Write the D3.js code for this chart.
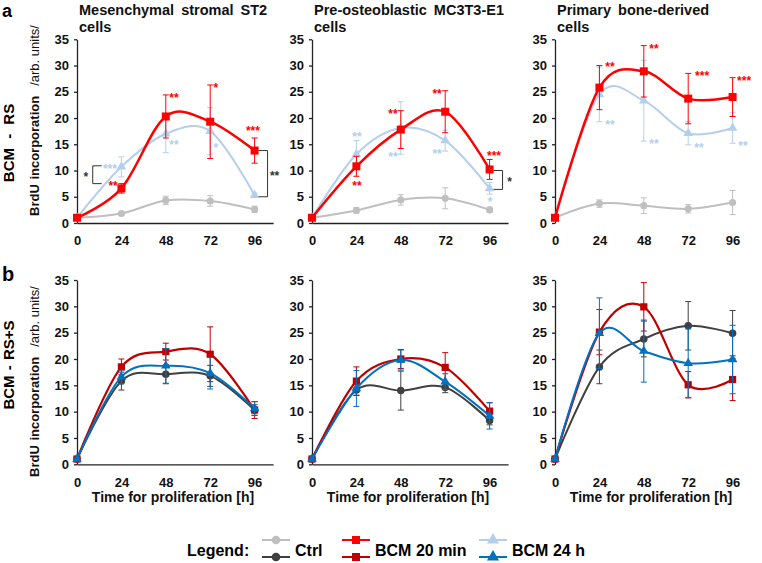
<!DOCTYPE html>
<html><head><meta charset="utf-8">
<script src="https://cdn.jsdelivr.net/npm/d3@7"></script>
<style>
html,body{margin:0;padding:0;background:#fff;}
svg text{font-family:'Liberation Sans',Arial,Helvetica,sans-serif;}
</style></head>
<body><svg id="chart" width="762" height="563"></svg>
<script>
// ---------- DATA ----------
const hours = [0, 24, 48, 72, 96];
const yTicks = [0, 5, 10, 15, 20, 25, 30, 35];
const panelTitles = [["Mesenchymal stromal ST2", "cells"], ["Pre-osteoblastic MC3T3-E1", "cells"], ["Primary bone-derived", "cells"]];
const rowLabels = ["BCM - RS", "BCM - RS+S"];
const panelLetters = ["a", "b"];
const yTitleMain = "BrdU incorporation";
const yTitleUnit = "/arb. units/";
const xTitle = "Time for proliferation [h]";
const seriesNames = ["Ctrl", "BCM 20 min", "BCM 24 h"];

// Row a: BCM - RS
const aST2Ctrl  = [1.0, 1.8, 4.3, 4.2, 2.6];   const aST2CtrlErr  = [0.2, 0.3, 0.8, 1.0, 0.6];
const aST2B20   = [1.0, 6.6, 20.3, 19.3, 13.8]; const aST2B20Err   = [0.3, 0.9, 4.1, 7.0, 2.4];
const aST2B24   = [1.0, 10.7, 17.0, 17.5, 5.3]; const aST2B24Err   = [0.2, 1.9, 3.6, 4.5, 0.4];
const aMC3Ctrl  = [1.0, 2.4, 4.4, 4.7, 2.5];   const aMC3CtrlErr  = [0.2, 0.5, 1.0, 2.0, 0.5];
const aMC3B20   = [1.0, 10.8, 17.8, 21.2, 10.2]; const aMC3B20Err  = [0.3, 1.9, 3.6, 4.0, 1.9];
const aMC3B24   = [1.0, 13.1, 18.1, 15.7, 6.6]; const aMC3B24Err   = [0.2, 2.6, 5.0, 2.0, 1.1];
const aPriCtrl  = [1.0, 3.7, 3.3, 2.7, 3.9];   const aPriCtrlErr  = [0.2, 0.7, 1.5, 0.8, 2.3];
const aPriB20   = [1.0, 25.8, 28.9, 23.7, 24.0]; const aPriB20Err  = [0.3, 4.2, 4.9, 4.8, 3.7];
const aPriB24   = [1.0, 24.5, 23.3, 17.1, 18.1]; const aPriB24Err  = [0.2, 5.2, 7.7, 2.2, 2.9];

// Row b: BCM - RS+S
const bST2Ctrl  = [1.0, 15.8, 17.1, 16.8, 10.3]; const bST2CtrlErr = [0.2, 1.7, 1.8, 2.0, 1.0];
const bST2B20   = [1.0, 18.5, 21.4, 20.9, 10.3]; const bST2B20Err  = [0.3, 1.5, 1.6, 5.2, 1.6];
const bST2B24   = [1.0, 16.6, 18.7, 17.3, 10.6]; const bST2B24Err  = [0.2, 1.3, 3.3, 3.0, 1.3];
const bMC3Ctrl  = [1.0, 14.1, 14.0, 14.6, 8.3];  const bMC3CtrlErr = [0.2, 1.0, 3.7, 1.0, 0.8];
const bMC3B20   = [1.0, 15.8, 20.0, 18.4, 10.1]; const bMC3B20Err  = [0.3, 2.7, 1.8, 2.8, 1.6];
const bMC3B24   = [1.0, 14.4, 19.8, 15.7, 9.2];  const bMC3B24Err  = [0.2, 3.4, 1.9, 1.5, 2.5];
const bPriCtrl  = [1.0, 18.5, 23.8, 26.3, 24.9]; const bPriCtrlErr = [0.2, 3.2, 3.4, 4.6, 4.3];
const bPriB20   = [1.0, 25.1, 29.9, 15.1, 16.1]; const bPriB20Err  = [0.3, 4.3, 4.6, 2.5, 4.0];
const bPriB24   = [1.0, 24.9, 21.5, 19.2, 19.9]; const bPriB24Err  = [0.2, 6.7, 5.9, 6.5, 6.5];

// significance marks (row a): [panel, series(1=20min,2=24h), hour, value, text]
const stars = [
  [0, 1, 19.5, 7.6, "**"], [0, 2, 17.8, 10.9, "***"], [0, 1, 52.4, 24.4, "**"], [0, 2, 52.4, 15.5, "**"],
  [0, 1, 75.1, 26.3, "*"], [0, 2, 75.1, 14.9, "*"], [0, 1, 95.1, 18.1, "***"],
  [1, 2, 24.3, 17.0, "**"], [1, 1, 24.3, 7.6, "**"], [1, 1, 43.8, 21.4, "**"], [1, 2, 43.8, 13.2, "**"],
  [1, 1, 67.6, 25.2, "**"], [1, 2, 67.6, 13.7, "**"], [1, 1, 98.4, 13.4, "***"], [1, 2, 96.2, 4.6, "*"],
  [2, 1, 29.7, 30.2, "**"], [2, 2, 29.7, 19.3, "**"], [2, 1, 53.5, 33.8, "**"], [2, 2, 53.5, 15.6, "**"],
  [2, 1, 79.5, 28.6, "***"], [2, 2, 77.8, 14.9, "**"], [2, 1, 102.2, 27.7, "***"], [2, 2, 101.6, 15.3, "**"]
];
// comparison brackets (row a): [panel, side, hour, upper value, lower value, text]
const brackets = [
  [0, "left", 8.5, 10.9, 7.5, "*"],
  [0, "right", 103.0, 13.8, 5.0, "**"],
  [1, "right", 103.0, 10.0, 6.4, "*"]
];

// ---------- LAYOUT / STYLE ----------
const panelX0 = [77, 312, 555];
const rowY = [{zero: 223, top: 39.3}, {zero: 464.3, top: 280}];
const pxPerHour = 1.85;
const xMaxHour = 106;
const colors = [
  ["#bfbfbf", "#ff0000", "#b4cfec"],
  ["#404040", "#c00000", "#0070c0"]
];
const svg = d3.select("#chart");
const FONT = "'Liberation Sans', Arial, Helvetica, sans-serif";

const rowsData = [
  [[aST2Ctrl, aST2B20, aST2B24], [aMC3Ctrl, aMC3B20, aMC3B24], [aPriCtrl, aPriB20, aPriB24]],
  [[bST2Ctrl, bST2B20, bST2B24], [bMC3Ctrl, bMC3B20, bMC3B24], [bPriCtrl, bPriB20, bPriB24]]
];
const rowsErr = [
  [[aST2CtrlErr, aST2B20Err, aST2B24Err], [aMC3CtrlErr, aMC3B20Err, aMC3B24Err], [aPriCtrlErr, aPriB20Err, aPriB24Err]],
  [[bST2CtrlErr, bST2B20Err, bST2B24Err], [bMC3CtrlErr, bMC3B20Err, bMC3B24Err], [bPriCtrlErr, bPriB20Err, bPriB24Err]]
];
const drawOrder = [[0, 2, 1], [0, 1, 2]];
const symbolTypes = [d3.symbolCircle, d3.symbolSquare, d3.symbolTriangle];
const symbolSizes = [[40, 64, 40], [44, 52, 40]];
const lineWidths = [[2, 2.5, 2], [2, 2.2, 2]];

function scales(r, p) {
  const x = d3.scaleLinear().domain([0, xMaxHour]).range([panelX0[p], panelX0[p] + xMaxHour * pxPerHour]);
  const y = d3.scaleLinear().domain([0, 35]).range([rowY[r].zero, rowY[r].top]);
  return {x, y};
}

// titles
panelTitles.forEach((t, p) => {
  const tx = svg.append("text").attr("x", panelX0[p] + 2).attr("y", 15)
    .attr("font-size", 14.5).attr("font-weight", "bold").attr("word-spacing", 3).attr("fill", "#111");
  tx.append("tspan").attr("x", panelX0[p] + 2).attr("y", 15).text(t[0]);
  tx.append("tspan").attr("x", panelX0[p] + 2).attr("y", 32).text(t[1]);
});

// panel letters
svg.append("text").attr("x", 2).attr("y", 17).attr("font-size", 18).attr("font-weight", "bold").text(panelLetters[0]);
svg.append("text").attr("x", 2).attr("y", 281).attr("font-size", 20).attr("font-weight", "bold").text(panelLetters[1]);

// row y titles
const yTitleBottom = [216, 477];
const rowLabelCenter = [143, 365];
rowLabels.forEach((lab, r) => {
  svg.append("text").attr("transform", `translate(14,${rowLabelCenter[r]}) rotate(-90)`)
    .attr("text-anchor", "middle").attr("font-size", 15).attr("font-weight", "bold")
    .attr("word-spacing", r === 0 ? 5 : 1).text(lab);
  const t = svg.append("text").attr("transform", `translate(39,${yTitleBottom[r]}) rotate(-90)`)
    .attr("font-size", 13).attr("fill", "#111");
  t.append("tspan").attr("font-weight", "bold").attr("word-spacing", 1).text(yTitleMain);
  t.append("tspan").attr("dx", 10).attr("font-weight", "normal").text(yTitleUnit);
});

// panels
for (let r = 0; r < 2; r++) {
  for (let p = 0; p < 3; p++) {
    const {x, y} = scales(r, p);
    const g = svg.append("g");
    const ya = g.append("g").attr("transform", `translate(${panelX0[p]},0)`)
      .call(d3.axisLeft(y).tickValues(yTicks).tickSize(3).tickSizeOuter(0).tickPadding(5));
    ya.selectAll("text").attr("font-size", 13).attr("font-weight", "bold").attr("fill", "#111").attr("font-family", FONT);
    ya.selectAll("line,path").attr("stroke", "#222").attr("stroke-width", 1.3);
    const xa = g.append("g").attr("transform", `translate(0,${rowY[r].zero})`)
      .call(d3.axisBottom(x).tickValues(hours).tickSize(0).tickSizeOuter(0).tickPadding(13));
    xa.selectAll("text").attr("font-size", 13).attr("font-weight", "bold").attr("fill", "#111").attr("font-family", FONT);
    xa.select("path.domain").attr("stroke", "#222").attr("stroke-width", 1.3).attr("display", p === 2 ? "none" : null);
    if (r === 1) {
      g.append("text").attr("x", panelX0[p] + 96).attr("y", 502).attr("text-anchor", "middle")
        .attr("font-size", 14).attr("font-weight", "bold").attr("fill", "#111").text(xTitle);
    }
    drawOrder[r].forEach(s => {
      const vals = rowsData[r][p][s], errs = rowsErr[r][p][s];
      const pts = hours.map((h, i) => ({h, v: vals[i], e: errs[i]}));
      const col = colors[r][s];
      const eg = g.append("g").attr("stroke", col).attr("stroke-width", 1);
      pts.forEach(d => {
        eg.append("line").attr("x1", x(d.h)).attr("x2", x(d.h)).attr("y1", y(d.v - d.e)).attr("y2", y(d.v + d.e));
        [d.v - d.e, d.v + d.e].forEach(v => eg.append("line").attr("x1", x(d.h) - 3).attr("x2", x(d.h) + 3).attr("y1", y(v)).attr("y2", y(v)));
      });
      const line = d3.line().x(d => x(d.h)).y(d => y(d.v)).curve(d3.curveCardinal.tension(0));
      g.append("path").attr("d", line(pts)).attr("fill", "none").attr("stroke", col).attr("stroke-width", lineWidths[r][s]);
      g.selectAll(null).data(pts).enter().append("path")
        .attr("transform", d => `translate(${x(d.h)},${y(d.v)})`)
        .attr("d", d3.symbol().type(symbolTypes[s]).size(symbolSizes[r][s])).attr("fill", col);
    });
    if (r === 0) {
      stars.filter(d => d[0] === p).forEach(d => {
        g.append("text").attr("x", x(d[2])).attr("y", y(d[3]) + 7).attr("text-anchor", "middle")
          .attr("font-size", 12).attr("font-weight", "bold").attr("fill", colors[0][d[1]]).text(d[4]);
      });
      brackets.filter(d => d[0] === p).forEach(d => {
        const bx = x(d[2]), y1 = y(d[3]), y2 = y(d[4]);
        const dir = d[1] === "left" ? 1 : -1;
        g.append("path").attr("d", `M${bx + dir * 9},${y1}H${bx}V${y2}H${bx + dir * 9}`)
          .attr("fill", "none").attr("stroke", "#333").attr("stroke-width", 1);
        g.append("text").attr("x", bx - dir * 7).attr("y", (y1 + y2) / 2 + 6).attr("text-anchor", "middle")
          .attr("font-size", 12).attr("font-weight", "bold").attr("fill", "#333").text(d[5]);
      });
    }
  }
}

// legend
svg.append("text").attr("x", 187).attr("y", 556).attr("font-size", 16).attr("font-weight", "bold").text("Legend:");
const legendX = [262, 342, 479];
seriesNames.forEach((name, s) => {
  [0, 1].forEach(r => {
    const yy = r === 0 ? 540 : 557;
    svg.append("line").attr("x1", legendX[s]).attr("x2", legendX[s] + 28).attr("y1", yy).attr("y2", yy)
      .attr("stroke", colors[r][s]).attr("stroke-width", 2);
    svg.append("path").attr("transform", `translate(${legendX[s] + 14},${yy})`)
      .attr("d", d3.symbol().type(symbolTypes[s]).size(s === 0 ? 60 : 64)).attr("fill", colors[r][s]);
  });
  svg.append("text").attr("x", legendX[s] + 33).attr("y", 556).attr("font-size", 16).attr("font-weight", "bold").text(name);
});
</script></body></html>
